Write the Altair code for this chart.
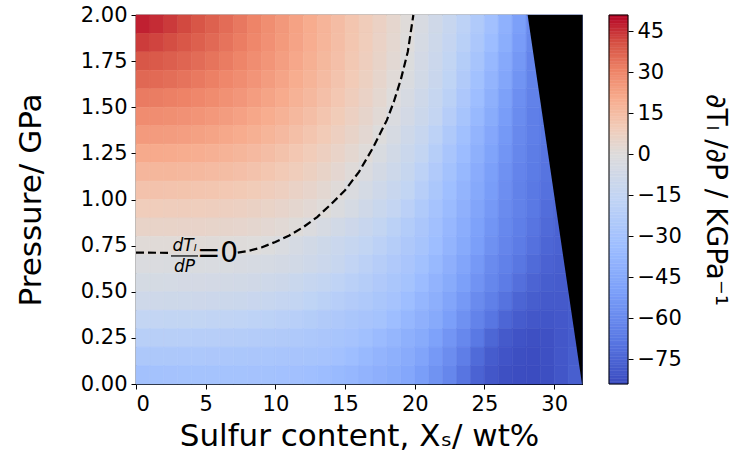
import altair as alt
import pandas as pd

# ---------------- data ----------------
# cell centres: sulfur content (wt%) and pressure (GPa)
x_centers = [i + 0.5 for i in range(32)]
p_centers = [1.95, 1.85, 1.75, 1.65, 1.55, 1.45, 1.35, 1.25, 1.15, 1.05,
             0.95, 0.85, 0.75, 0.65, 0.55, 0.45, 0.35, 0.25, 0.15, 0.05]

# dT_l/dP (K/GPa), one list per pressure row, x = 0.5 ... 31.5 wt%
r195 = [47.4, 45.8, 44.0, 42.0, 39.9, 37.7, 35.4, 33.0, 30.6, 28.1, 25.6, 23.0, 20.4, 17.7, 15.0, 12.2,
        9.4, 6.6, 3.8, 0.9, -3.3, -8.0, -12.7, -18.3, -24.8, -31.8, -40.6, -50.0, -60.0, -62.0, -64.0, -66.0]
r185 = [43.7, 42.6, 41.3, 39.7, 38.0, 36.1, 34.1, 32.0, 29.8, 27.5, 25.1, 22.6, 20.0, 17.4, 14.7, 11.9,
        9.1, 6.2, 3.3, 0.3, -4.4, -9.2, -14.0, -20.2, -26.7, -34.2, -42.5, -51.6, -61.0, -63.0, -65.0, -67.0]
r175 = [39.8, 39.1, 38.1, 36.9, 35.5, 33.9, 32.2, 30.3, 28.3, 26.2, 24.0, 21.6, 19.2, 16.6, 14.0, 11.2,
        8.4, 5.5, 2.5, -1.0, -5.8, -10.6, -15.7, -22.5, -29.3, -37.1, -45.0, -53.8, -62.5, -64.0, -66.0, -68.0]
r165 = [36.4, 35.9, 35.1, 34.1, 32.9, 31.5, 29.9, 28.3, 26.4, 24.5, 22.4, 20.2, 17.8, 15.4, 12.8, 10.1,
        7.4, 4.5, 1.5, -2.3, -7.0, -11.7, -17.1, -24.3, -31.5, -39.0, -46.8, -55.6, -62.8, -65.0, -67.0, -69.0]
r155 = [32.4, 32.1, 31.5, 30.8, 29.8, 28.6, 27.3, 25.9, 24.2, 22.5, 20.6, 18.5, 16.3, 14.0, 11.5, 8.9,
        6.1, 3.3, 0.3, -4.1, -8.6, -13.2, -19.3, -26.4, -33.8, -41.3, -49.2, -57.5, -63.5, -66.0, -68.0, -70.0]
r145 = [28.5, 28.2, 27.8, 27.2, 26.5, 25.5, 24.4, 23.2, 21.7, 20.1, 18.4, 16.5, 14.4, 12.2, 9.8, 7.3,
        4.6, 1.8, -1.7, -6.0, -10.3, -14.6, -21.8, -29.3, -36.4, -43.6, -51.3, -59.2, -65.0, -68.0, -70.0, -71.0]
r135 = [25.0, 24.8, 24.5, 24.0, 23.3, 22.5, 21.5, 20.4, 19.1, 17.6, 16.0, 14.2, 12.2, 10.1, 7.8, 5.4,
        2.8, 0.0, -4.3, -8.6, -12.9, -18.4, -25.2, -32.0, -38.9, -45.8, -53.3, -60.6, -65.0, -68.0, -70.0, -72.0]
r125 = [21.0, 20.9, 20.6, 20.2, 19.7, 19.0, 18.1, 17.1, 16.0, 14.7, 13.2, 11.5, 9.7, 7.7, 5.6, 3.3,
        0.8, -2.8, -6.9, -10.9, -15.0, -21.5, -28.0, -34.6, -41.1, -47.9, -55.0, -61.5, -66.0, -69.0, -71.0, -72.0]
r115 = [17.0, 16.9, 16.8, 16.5, 16.1, 15.5, 14.9, 14.0, 13.0, 11.9, 10.5, 9.0, 7.4, 5.5, 3.4, 1.2,
        -1.9, -5.6, -9.4, -13.1, -18.1, -24.4, -30.6, -36.9, -43.1, -49.8, -56.6, -62.5, -66.5, -69.5, -71.5, -73.0]
r105 = [13.0, 13.0, 12.8, 12.6, 12.3, 11.9, 11.3, 10.6, 9.8, 8.8, 7.6, 6.2, 4.7, 3.0, 1.0, -1.7,
        -5.1, -8.5, -11.9, -15.6, -21.3, -27.1, -33.0, -39.0, -45.0, -51.5, -58.0, -63.5, -67.5, -70.5, -72.5, -74.0]
r095 = [9.0, 9.0, 8.9, 8.8, 8.5, 8.2, 7.8, 7.2, 6.5, 5.7, 4.7, 3.6, 2.3, 0.8, -1.6, -4.9,
        -8.2, -11.4, -14.7, -19.5, -24.5, -29.5, -35.2, -41.0, -46.9, -53.1, -59.4, -63.6, -67.7, -71.8, -75.0, -76.0]
r085 = [5.5, 5.5, 5.45, 5.36, 5.2, 5.0, 4.6, 4.2, 3.5, 2.8, 1.8, 0.7, -1.4, -4.1, -6.8, -9.5,
        -12.3, -15.0, -19.1, -23.1, -27.2, -31.7, -37.2, -42.8, -48.8, -55.0, -60.8, -64.9, -68.9, -73.0, -75.5, -76.0]
r075 = [1.5, 1.5, 1.4, 1.4, 1.3, 1.1, 0.9, 0.6, 0.3, -0.4, -2.6, -4.7, -6.9, -9.0, -11.1, -13.3,
        -15.7, -19.0, -22.3, -25.7, -29.0, -33.8, -39.1, -44.5, -50.6, -56.9, -62.1, -66.3, -70.4, -74.6, -76.0, -76.5]
r065 = [-2.0, -2.0, -2.1, -2.2, -2.3, -2.5, -2.8, -3.2, -3.8, -4.6, -5.6, -7.0, -8.6, -10.6, -13.0, -15.8,
        -18.9, -21.9, -24.9, -27.9, -31.5, -36.5, -41.5, -46.9, -53.1, -59.4, -64.0, -68.4, -72.8, -75.8, -77.0, -77.0]
r055 = [-5.0, -5.0, -5.1, -5.3, -5.5, -5.8, -6.2, -6.8, -7.5, -8.5, -9.7, -11.3, -13.2, -14.9, -17.3, -19.9,
        -22.4, -24.9, -27.5, -30.0, -34.7, -39.4, -44.1, -49.8, -55.8, -61.5, -66.3, -71.1, -75.3, -77.5, -78.0, -78.0]
r045 = [-8.8, -8.9, -9.0, -9.2, -9.5, -9.9, -10.4, -11.0, -11.8, -12.8, -13.9, -15.0, -17.1, -19.2, -21.3, -23.3,
        -25.4, -27.5, -29.6, -33.4, -37.7, -42.0, -46.9, -53.1, -59.4, -64.7, -69.8, -75.0, -77.5, -79.0, -79.0, -78.0]
r035 = [-15.3, -15.3, -15.4, -15.5, -15.7, -16.0, -16.4, -17.0, -17.7, -18.6, -19.7, -21.0, -22.5, -24.1, -25.8, -27.6,
        -28.7, -30.0, -33.7, -37.3, -41.0, -44.6, -50.6, -56.9, -62.9, -68.7, -74.4, -78.0, -80.0, -80.5, -79.5, -78.0]
r025 = [-20.8, -20.8, -20.9, -21.0, -21.2, -21.4, -21.8, -22.2, -22.8, -23.5, -24.3, -25.2, -26.3, -27.4, -28.6, -29.7,
        -32.1, -35.1, -38.1, -41.1, -44.1, -49.0, -54.8, -60.7, -67.5, -74.3, -79.0, -81.5, -82.5, -82.0, -80.0, -78.0]
r015 = [-26.0, -26.0, -26.0, -26.1, -26.2, -26.4, -26.7, -27.0, -27.4, -27.8, -28.3, -28.8, -29.3, -29.8, -31.3, -33.8,
        -36.3, -38.8, -41.3, -43.8, -47.7, -53.0, -58.4, -65.3, -72.8, -78.0, -81.0, -83.0, -83.5, -82.5, -80.0, -77.5]
r005 = [-31.0, -30.6, -30.3, -30.1, -30.0, -30.0, -30.0, -30.1, -30.3, -30.6, -31.1, -31.8, -32.8, -34.2, -35.8, -37.6,
        -39.5, -41.5, -43.5, -46.0, -51.0, -56.0, -61.5, -69.0, -75.5, -80.0, -82.5, -83.5, -84.0, -83.0, -80.5, -77.0]

rows = [r195, r185, r175, r165, r155, r145, r135, r125, r115, r105,
        r095, r085, r075, r065, r055, r045, r035, r025, r015, r005]

# zero contour (dashed), two pieces separated by its label
zero_x = [0.0, 2.3, 7.3, 8.0, 9.0, 10.0, 11.0, 12.0, 13.0, 14.0, 15.0, 16.0, 17.0, 18.0, 18.5, 19.0, 19.5, 19.9]
zero_p = [0.712, 0.711, 0.712, 0.72, 0.74, 0.77, 0.805, 0.85, 0.905, 0.975, 1.05, 1.15, 1.28, 1.43, 1.53, 1.65, 1.8, 2.0]
zero_seg = [0, 0] + [1] * 16

# black (out of range) region boundary
bound_x = [28.1, 32.0]
bound_p = [2.0, 0.0]

# colour bar
cbar_min, cbar_max = -84, 51
colorbar_ticks = [-75, -60, -45, -30, -15, 0, 15, 30, 45]

# ---------------- build tables ----------------
recs = []
for pc, row in zip(p_centers, rows):
    for xc, v in zip(x_centers, row):
        recs.append({"x0": xc - 0.5, "x1": xc + 0.5, "p0": pc - 0.05, "p1": pc + 0.05, "v": v})
grid = pd.DataFrame(recs)

zero_df = pd.DataFrame({"x": zero_x, "p": zero_p, "seg": zero_seg, "i": list(range(len(zero_x)))})
bound_df = pd.DataFrame({"x": bound_x, "p": bound_p, "ptop": [2.0, 2.0]})
cb_df = pd.DataFrame({"lo": [float(v) for v in range(cbar_min, cbar_max)],
                      "hi": [float(v + 1) for v in range(cbar_min, cbar_max)],
                      "mid": [v + 0.5 for v in range(cbar_min, cbar_max)]})

FONT = "DejaVu Sans"
cool_warm = ["#3b4cc0", "#5b7ae5", "#7b9ff9", "#9ebeff", "#c0d4f5", "#dddcdc",
             "#f2cbb7", "#f7ac8e", "#ee8468", "#d65244", "#b40426"]
cdomain = [-84, -67.2, -50.4, -33.6, -16.8, 0, 10.2, 20.4, 30.6, 40.8, 51]
cscale = alt.Scale(domain=cdomain, range=cool_warm, interpolate="rgb")

xscale = alt.Scale(domain=[0, 32], nice=False, zero=False)
yscale = alt.Scale(domain=[0, 2], nice=False, zero=False)
W, H = 446, 369
CB_X0, CB_X1 = 473, 492   # colour bar position (px from plot's left edge)

heat = alt.Chart(grid).mark_rect(strokeWidth=0.6).encode(
    x=alt.X("x0:Q", scale=xscale,
            axis=alt.Axis(values=[0, 5, 10, 15, 20, 25, 30], title="Sulfur content, Xₛ/ wt%",
                          titlePadding=7)),
    x2="x1:Q",
    y=alt.Y("p0:Q", scale=yscale,
            axis=alt.Axis(values=[0, 0.25, 0.5, 0.75, 1.0, 1.25, 1.5, 1.75, 2.0], format=".2f",
                          title="Pressure/ GPa", titlePadding=33)),
    y2="p1:Q",
    fill=alt.Fill("v:Q", scale=cscale, legend=None),
    stroke=alt.Stroke("v:Q", scale=cscale, legend=None),
)

black = alt.Chart(bound_df).mark_area(color="black").encode(
    x=alt.X("x:Q", scale=xscale),
    y=alt.Y("p:Q", scale=yscale, axis=None), y2="ptop:Q")

zero_line = alt.Chart(zero_df).mark_line(color="black", strokeDash=[8, 4], strokeWidth=2.2).encode(
    x=alt.X("x:Q", scale=xscale), y=alt.Y("p:Q", scale=yscale, axis=None),
    detail="seg:N", order="i:Q")

lab_df = pd.DataFrame({"x": [3.48, 3.48], "p": [0.748, 0.634], "t": ["dTₗ", "dP"]})
frac_text = alt.Chart(lab_df).mark_text(font=FONT, fontSize=17, fontStyle="italic", color="black").encode(
    x=alt.X("x:Q", scale=xscale), y=alt.Y("p:Q", scale=yscale, axis=None), text="t:N")
bar_df = pd.DataFrame({"x": [2.51], "x2": [4.45], "p": [0.694]})
frac_bar = alt.Chart(bar_df).mark_rule(color="black", strokeWidth=1.2).encode(
    x=alt.X("x:Q", scale=xscale), x2="x2:Q", y=alt.Y("p:Q", scale=yscale, axis=None))
eq_df = pd.DataFrame({"x": [5.85], "p": [0.705], "t": ["=0"]})
eq_text = alt.Chart(eq_df).mark_text(font=FONT, fontSize=28, color="black").encode(
    x=alt.X("x:Q", scale=xscale), y=alt.Y("p:Q", scale=yscale, axis=None), text="t:N")

cbar = alt.Chart(cb_df).mark_rect(strokeWidth=0.5).encode(
    x=alt.value(CB_X0), x2=alt.value(CB_X1),
    y=alt.Y("lo:Q", scale=alt.Scale(domain=[cbar_min, cbar_max], nice=False, zero=False),
            axis=alt.Axis(orient="right", offset=CB_X1 - W, values=colorbar_ticks, domain=False,
                          title="∂Tₗ /∂P / KGPa⁻¹", titleFontSize=28, titlePadding=19,
                          labelPadding=4,
                          labelExpr="replace(datum.label, '-', '−')")),
    y2="hi:Q",
    fill=alt.Fill("mid:Q", scale=cscale, legend=None),
    stroke=alt.Stroke("mid:Q", scale=cscale, legend=None),
)
cbar_frame = alt.Chart(pd.DataFrame({"k": [0]})).mark_rect(
    filled=False, stroke="black", strokeWidth=1).encode(
    x=alt.value(CB_X0), x2=alt.value(CB_X1), y=alt.value(0), y2=alt.value(H))

chart = alt.layer(heat, cbar, black, zero_line, frac_text, frac_bar, eq_text, cbar_frame).resolve_scale(
    y="independent"
).properties(
    width=W, height=H,
    autosize=alt.AutoSizeParams(type="none"),
    padding={"left": 136, "top": 15, "right": 156, "bottom": 88},
    background="white",
).configure_view(stroke="black", strokeWidth=1.2).configure_axis(
    labelFont=FONT, titleFont=FONT, labelFontSize=21, titleFontSize=31, titleFontWeight="normal",
    labelColor="black", titleColor="black", domainColor="black", tickColor="black",
    tickSize=5, grid=False, labelPadding=4,
)

chart.save("out.html", embed_options={"renderer": "svg", "actions": False})
